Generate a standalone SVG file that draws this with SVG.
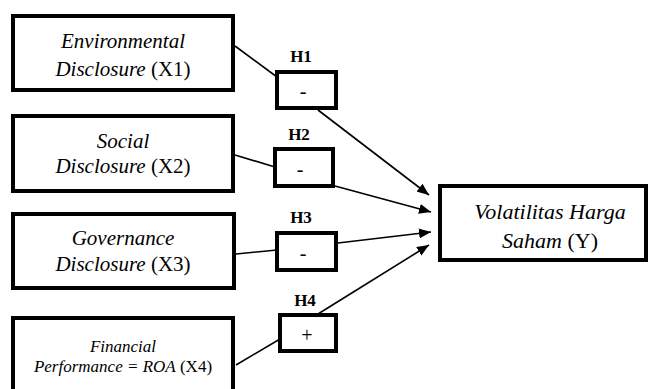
<svg xmlns="http://www.w3.org/2000/svg" width="652" height="389" viewBox="0 0 652 389">
<style>
.box{fill:#fff;stroke:#000;stroke-width:4}
.c{stroke:#000;stroke-width:1.6;fill:none}
</style>
<defs>
<marker id="ah" viewBox="0 0 12 10" refX="12" refY="5" markerWidth="12" markerHeight="10" markerUnits="userSpaceOnUse" orient="auto">
<path d="M0,0 L12,5 L0,10 z" fill="#000"/>
</marker>
</defs>
<g id="connectors">
<line class="c" x1="235" y1="46" x2="277" y2="77"/>
<line class="c" x1="235" y1="155" x2="275" y2="167"/>
<line class="c" x1="236" y1="254" x2="277" y2="250"/>
<line class="c" x1="236" y1="365" x2="280" y2="339"/>
<line class="c" x1="318" y1="110" x2="429" y2="195" marker-end="url(#ah)"/>
<line class="c" x1="335" y1="186" x2="431" y2="212" marker-end="url(#ah)"/>
<line class="c" x1="338" y1="243" x2="431" y2="232" marker-end="url(#ah)"/>
<line class="c" x1="318" y1="314" x2="429" y2="245" marker-end="url(#ah)"/>
</g>
<g font-family="Liberation Serif, Times New Roman, serif" text-anchor="middle" fill="#000">
<g id="x1">
<rect class="box" x="13" y="16" width="220" height="74"/>
<text font-size="21" x="123" y="48" font-style="italic">Environmental</text>
<text font-size="21" x="123" y="76"><tspan font-style="italic">Disclosure</tspan> (X1)</text>
</g>
<g id="x2">
<rect class="box" x="13" y="116" width="220" height="75"/>
<text font-size="21" x="123" y="148" font-style="italic">Social</text>
<text font-size="21" x="123" y="173"><tspan font-style="italic">Disclosure</tspan> (X2)</text>
</g>
<g id="x3">
<rect class="box" x="13" y="214" width="221" height="74"/>
<text font-size="21" x="123" y="245" font-style="italic">Governance</text>
<text font-size="21" x="123" y="271"><tspan font-style="italic">Disclosure</tspan> (X3)</text>
</g>
<g id="x4">
<rect class="box" x="13" y="318" width="220" height="80"/>
<text font-size="17" x="123" y="352" font-style="italic">Financial</text>
<text font-size="17" x="123" y="372"><tspan font-style="italic">Performance = ROA</tspan> (X4)</text>
</g>
<g id="h1">
<rect class="box" x="277" y="72" width="59" height="36"/>
<text font-size="17" font-weight="bold" x="301" y="62">H1</text>
<text font-size="20" x="303" y="98">-</text>
</g>
<g id="h2">
<rect class="box" x="275" y="149" width="58" height="37"/>
<text font-size="17" font-weight="bold" x="299" y="140">H2</text>
<text font-size="20" x="300" y="176">-</text>
</g>
<g id="h3">
<rect class="box" x="277" y="233" width="59" height="37"/>
<text font-size="17" font-weight="bold" x="301" y="223">H3</text>
<text font-size="20" x="303" y="260">-</text>
</g>
<g id="h4">
<rect class="box" x="280" y="315" width="56" height="36"/>
<text font-size="17" font-weight="bold" x="305" y="306">H4</text>
<text font-size="20" x="307" y="342">+</text>
</g>
<g id="y">
<rect class="box" x="440" y="186" width="206" height="74"/>
<text font-size="22" x="550" y="219" font-style="italic">Volatilitas Harga</text>
<text font-size="22" x="550" y="248"><tspan font-style="italic">Saham</tspan> (Y)</text>
</g>
</g>
</svg>
